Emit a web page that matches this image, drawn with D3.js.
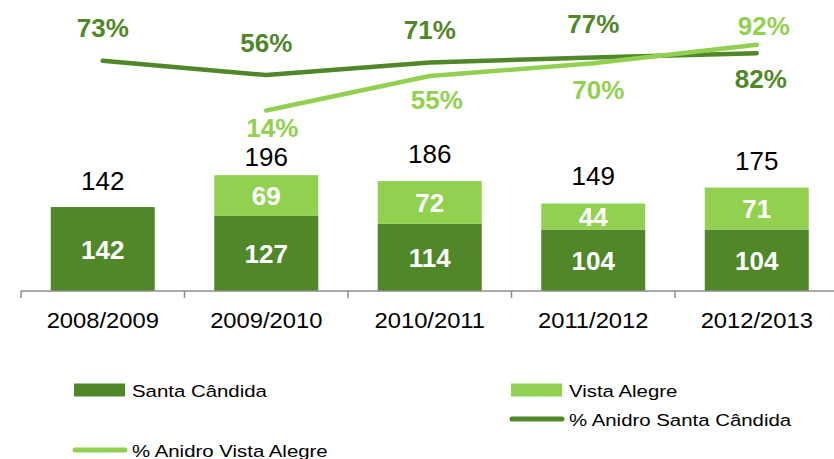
<!DOCTYPE html>
<html>
<head>
<meta charset="utf-8">
<script src="https://cdn.jsdelivr.net/npm/d3@7"></script>
<style>
  body { margin: 0; background: #fff; }
  svg { display: block; font-family: Arial, 'Liberation Sans', sans-serif; }
</style>
</head>
<body>
<div id="chart"></div>
<script>
const DARK = '#4F8729';
const LIGHT = '#92D050';

// Data
const seasons = ['2008/2009', '2009/2010', '2010/2011', '2011/2012', '2012/2013'];
const santaCandida = [142, 127, 114, 104, 104];
const vistaAlegre = [0, 69, 72, 44, 71];
const totals = [142, 196, 186, 149, 175];
const anidroSantaCandida = [0.73, 0.56, 0.71, 0.77, 0.82];
const anidroVistaAlegre = [null, 0.14, 0.55, 0.70, 0.92];

// Label nudges (layout only)
const totalLabelDy = [-17, -9, -18, -18, -18];
const scLabelDy = [-24, -23, -23, -24, 35];
const scLabelDx = [0, 0, 0, 0, 4];
const vaLabelDy = [0, 26, 33, 36, -10];
const vaLabelDx = [0, 6, 7, 5, 7];

const width = 834;
const height = 459;
const plotTop = 38;
const plotBottom = 291;
const labelSize = '26px';

const svg = d3.select('#chart')
  .append('svg')
  .attr('width', width)
  .attr('height', height);

const x = d3.scaleBand()
  .domain(seasons)
  .range([21, 838.5])
  .paddingInner(0.364)
  .paddingOuter(0.182);

const xBand = d3.scaleBand().domain(seasons).range([21, 838.5]);

const y = d3.scaleLinear()
  .domain([0, 428])
  .range([plotBottom, plotTop]);

// Secondary axis for the percentage lines.
const yPct = d3.scaleLinear()
  .domain([-2, 1])
  .range([plotBottom, plotTop]);

const stacked = seasons.map((s, i) => ({
  season: s,
  sc: santaCandida[i],
  va: vistaAlegre[i],
  total: totals[i]
}));

// Santa Cândida bars.
svg.append('g')
  .selectAll('rect')
  .data(stacked)
  .join('rect')
  .attr('x', d => x(d.season))
  .attr('width', x.bandwidth())
  .attr('y', d => y(d.sc))
  .attr('height', d => y(0) - y(d.sc))
  .attr('fill', DARK);

// Vista Alegre bars on top.
svg.append('g')
  .selectAll('rect')
  .data(stacked.filter(d => d.va > 0))
  .join('rect')
  .attr('x', d => x(d.season))
  .attr('width', x.bandwidth())
  .attr('y', d => y(d.sc + d.va))
  .attr('height', d => y(d.sc) - y(d.sc + d.va))
  .attr('fill', LIGHT);

// Labels inside segments.
const cx = d => x(d.season) + x.bandwidth() / 2;

svg.append('g')
  .selectAll('text')
  .data(stacked)
  .join('text')
  .attr('x', cx)
  .attr('y', d => y(d.sc / 2) + 9.5)
  .attr('text-anchor', 'middle')
  .attr('fill', '#fff')
  .style('font-weight', 'bold')
  .style('font-size', labelSize)
  .text(d => d.sc);

svg.append('g')
  .selectAll('text')
  .data(stacked.filter(d => d.va > 0))
  .join('text')
  .attr('x', cx)
  .attr('y', d => y(d.sc + d.va / 2) + 9.5)
  .attr('text-anchor', 'middle')
  .attr('fill', '#fff')
  .style('font-weight', 'bold')
  .style('font-size', labelSize)
  .text(d => d.va);

// Totals above bars.
svg.append('g')
  .selectAll('text')
  .data(stacked)
  .join('text')
  .attr('x', cx)
  .attr('y', (d, i) => y(d.total) + totalLabelDy[i])
  .attr('text-anchor', 'middle')
  .attr('fill', '#000')
  .style('font-size', labelSize)
  .text(d => d.total);

// X axis.
const axis = svg.append('g')
  .attr('transform', `translate(0,${plotBottom})`);

axis.append('line')
  .attr('x1', 21)
  .attr('x2', width)
  .attr('stroke', '#8c8c8c')
  .attr('stroke-width', 1.5);

axis.selectAll('.tick')
  .data(seasons)
  .join('line')
  .attr('x1', d => xBand(d))
  .attr('x2', d => xBand(d))
  .attr('y1', 0)
  .attr('y2', 7)
  .attr('stroke', '#8c8c8c')
  .attr('stroke-width', 1.5);

axis.selectAll('text')
  .data(seasons)
  .join('text')
  .attr('transform', d => `translate(${xBand(d) + xBand.bandwidth() / 2},37) scale(1.08,1)`)
  .attr('text-anchor', 'middle')
  .attr('fill', '#000')
  .style('font-size', '22px')
  .text(d => d);

// Percentage lines.
const lineCx = (d, i) => xBand(seasons[i]) + xBand.bandwidth() / 2;

const line = d3.line()
  .defined(d => d !== null)
  .x(lineCx)
  .y(d => yPct(d));

svg.append('path')
  .datum(anidroSantaCandida)
  .attr('d', line)
  .attr('fill', 'none')
  .attr('stroke', DARK)
  .attr('stroke-width', 4.5)
  .attr('stroke-linecap', 'round')
  .attr('stroke-linejoin', 'round');

svg.append('path')
  .datum(anidroVistaAlegre)
  .attr('d', line)
  .attr('fill', 'none')
  .attr('stroke', LIGHT)
  .attr('stroke-width', 4.5)
  .attr('stroke-linecap', 'round')
  .attr('stroke-linejoin', 'round');

const pctFmt = d3.format('.0%');

svg.append('g')
  .selectAll('text')
  .data(anidroSantaCandida)
  .join('text')
  .attr('x', (d, i) => lineCx(d, i) + scLabelDx[i])
  .attr('y', (d, i) => yPct(d) + scLabelDy[i])
  .attr('text-anchor', 'middle')
  .attr('fill', DARK)
  .style('font-weight', 'bold')
  .style('font-size', labelSize)
  .text(d => pctFmt(d));

svg.append('g')
  .selectAll('text')
  .data(anidroVistaAlegre.map((v, i) => ({ v, i })).filter(d => d.v !== null))
  .join('text')
  .attr('x', d => lineCx(d.v, d.i) + vaLabelDx[d.i])
  .attr('y', d => yPct(d.v) + vaLabelDy[d.i])
  .attr('text-anchor', 'middle')
  .attr('fill', LIGHT)
  .style('font-weight', 'bold')
  .style('font-size', labelSize)
  .text(d => pctFmt(d.v));

// Legend.
const legendItems = [
  { label: 'Santa Cândida', type: 'rect', color: DARK, x: 74, y: 390 },
  { label: 'Vista Alegre', type: 'rect', color: LIGHT, x: 511, y: 390 },
  { label: '% Anidro Santa Cândida', type: 'line', color: DARK, x: 511, y: 419 },
  { label: '% Anidro Vista Alegre', type: 'line', color: LIGHT, x: 74, y: 450 }
];

const legend = svg.append('g')
  .selectAll('g')
  .data(legendItems)
  .join('g')
  .attr('transform', d => `translate(${d.x},${d.y})`);

legend.filter(d => d.type === 'rect')
  .append('rect')
  .attr('x', 0)
  .attr('y', -6.5)
  .attr('width', 51)
  .attr('height', 13)
  .attr('fill', d => d.color);

legend.filter(d => d.type === 'line')
  .append('line')
  .attr('x1', 1)
  .attr('x2', 51)
  .attr('stroke', d => d.color)
  .attr('stroke-width', 5)
  .attr('stroke-linecap', 'round');

legend.append('text')
  .attr('transform', 'translate(58,6.5) scale(1.2,1)')
  .attr('fill', '#000')
  .style('font-size', '17px')
  .text(d => d.label);
</script>
</body>
</html>
